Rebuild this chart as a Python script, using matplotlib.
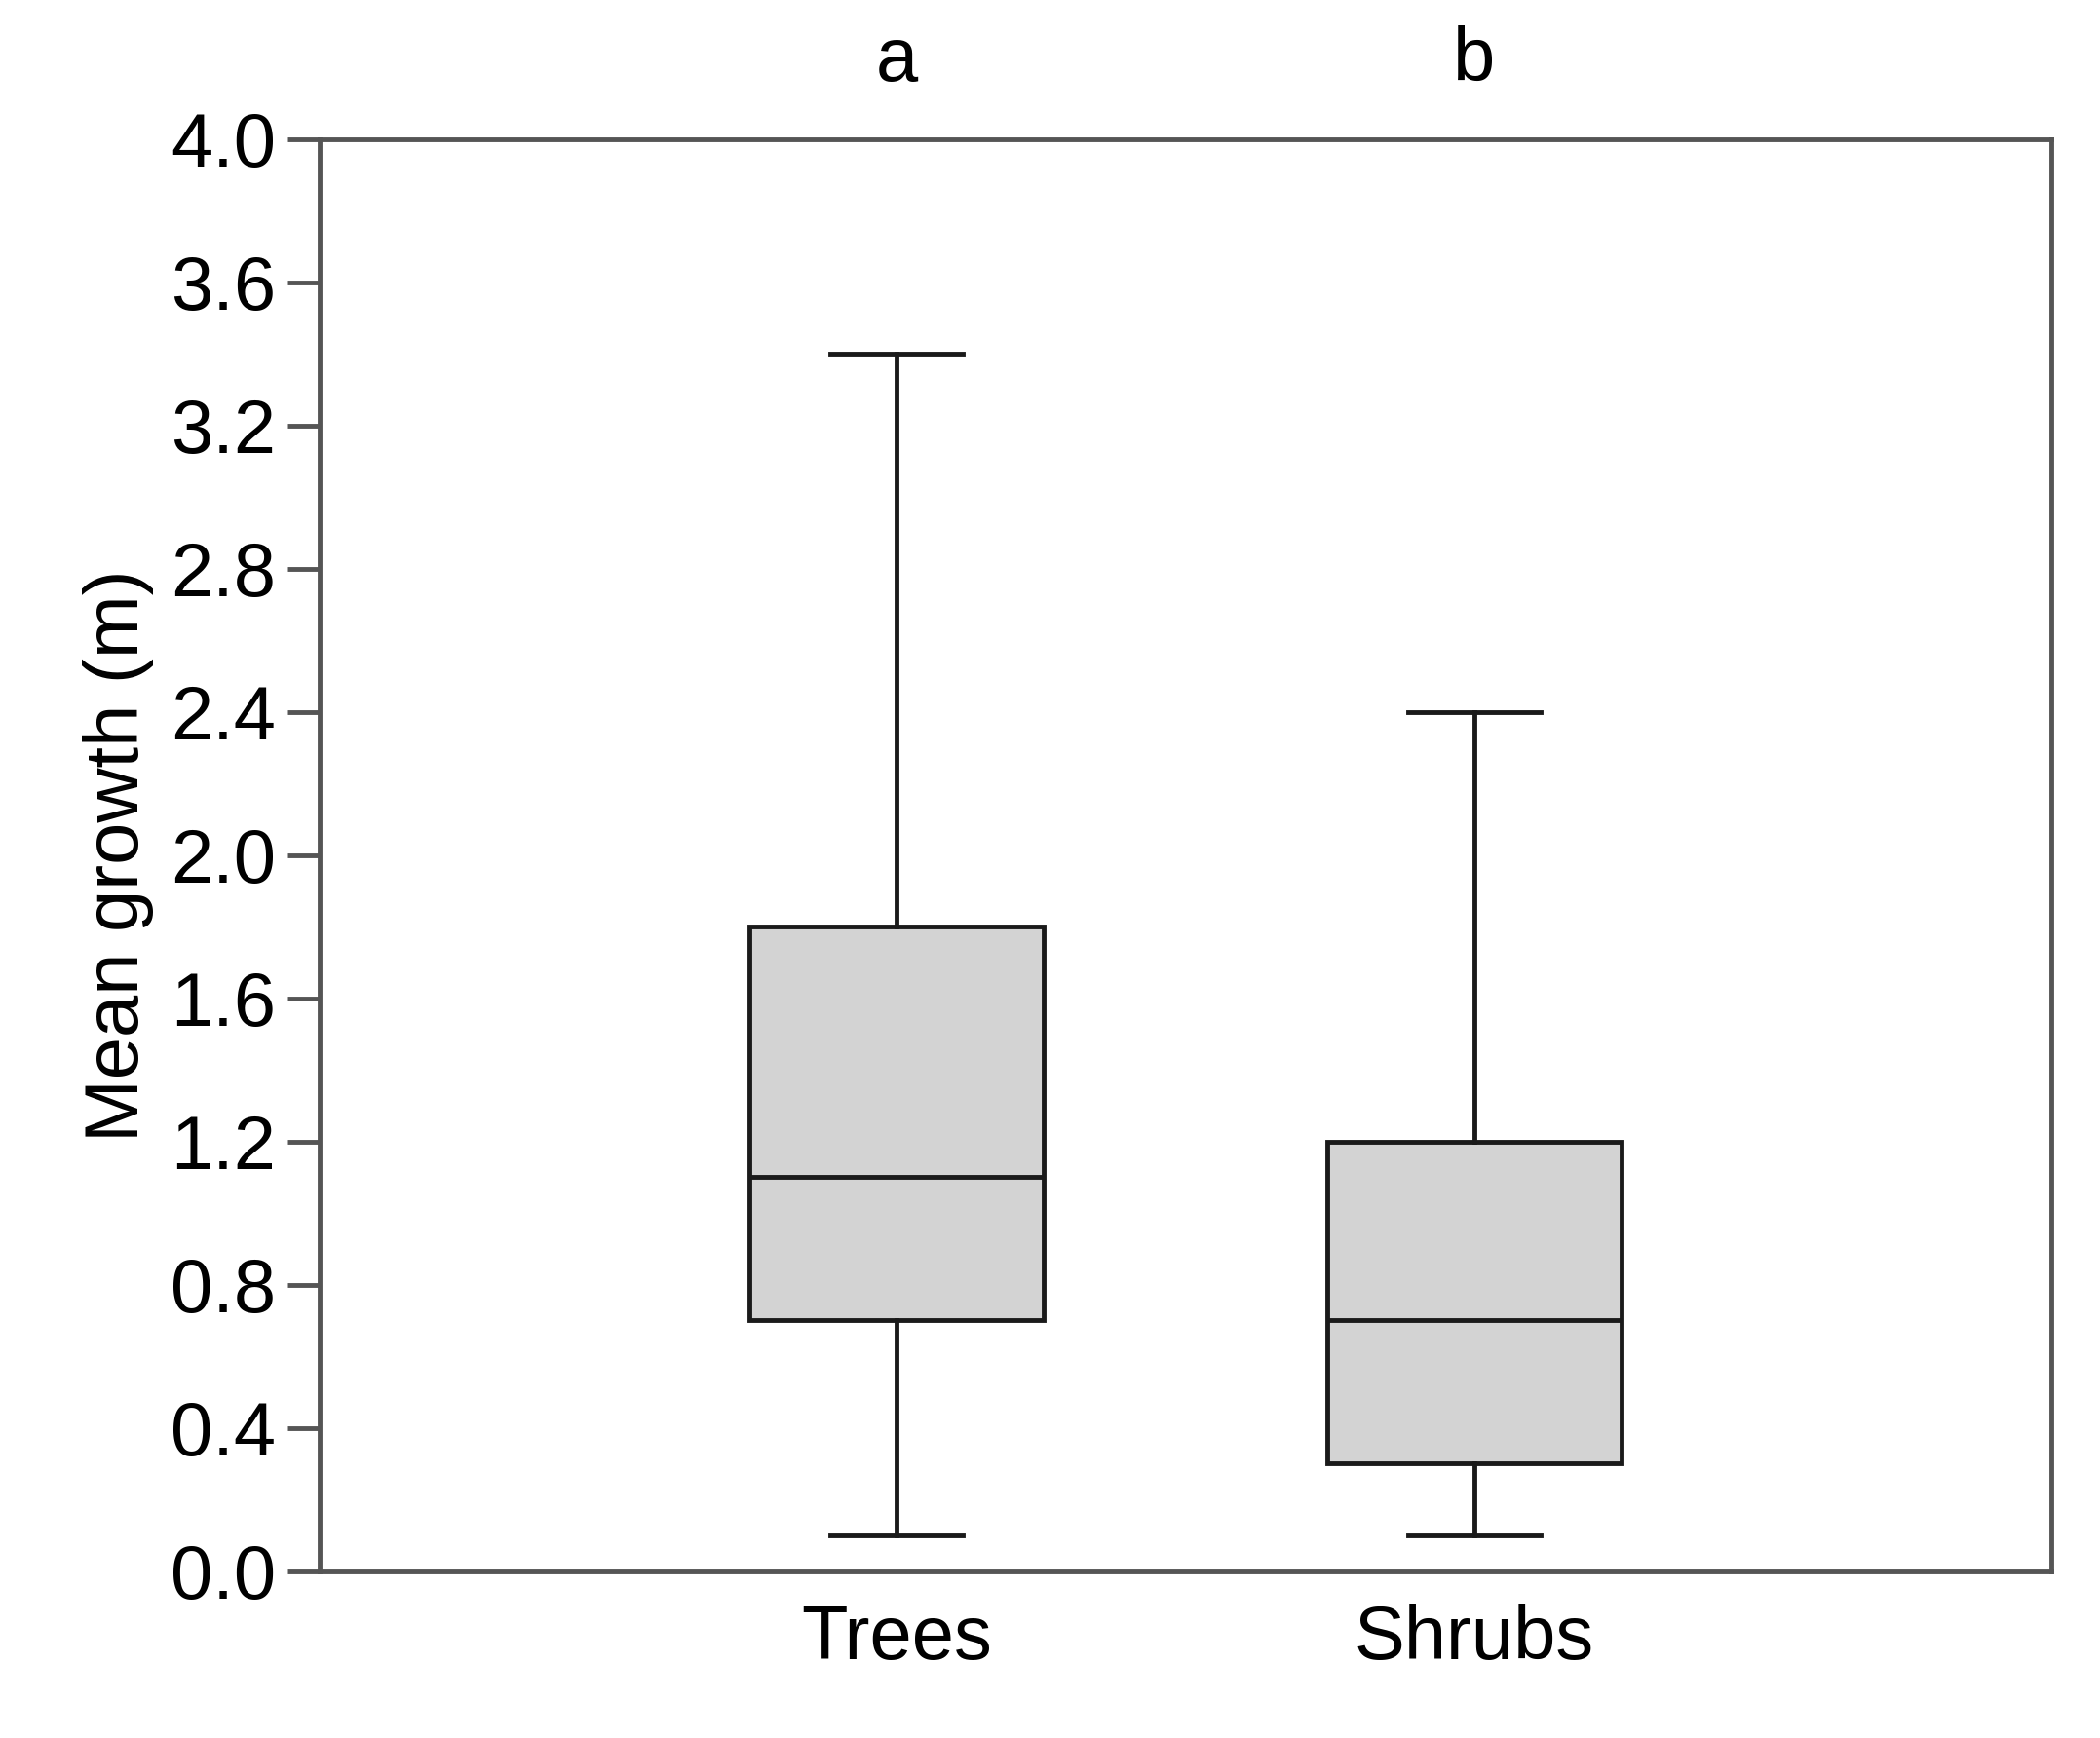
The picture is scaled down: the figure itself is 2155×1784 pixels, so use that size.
import matplotlib

matplotlib.use("Agg")

import matplotlib.pyplot as plt

categories = ["Trees", "Shrubs"]
letters = ["a", "b"]
whisker_low = [0.1, 0.1]
quartile_1 = [0.7, 0.3]
medians = [1.1, 0.7]
quartile_3 = [1.8, 1.2]
whisker_high = [3.4, 2.4]

plt.rcParams["font.family"] = ["Liberation Sans", "DejaVu Sans"]

fig = plt.figure(figsize=(21.55, 17.84), dpi=100)
ax = fig.add_axes([0.152, 0.096, 0.825, 0.824])

stats = [
    dict(label=c, whislo=lo, q1=a, med=m, q3=b, whishi=hi, fliers=[])
    for c, lo, a, m, b, hi in zip(
        categories, whisker_low, quartile_1, medians, quartile_3, whisker_high
    )
]
line = dict(color="#1a1a1a", linewidth=3.5)
ax.bxp(
    stats,
    positions=[1, 2],
    widths=0.51,
    patch_artist=True,
    showfliers=False,
    boxprops=dict(facecolor="#d3d3d3", edgecolor="#1a1a1a", linewidth=3.5),
    medianprops=line,
    whiskerprops=line,
    capprops=line,
    capwidths=0.23,
)

ax.set_xlim(0, 3)
ax.set_ylim(0, 4.0)
ax.set_yticks([i * 0.4 for i in range(11)])
ax.set_yticklabels([f"{i * 0.4:.1f}" for i in range(11)])
ax.set_xticks([1, 2])
ax.set_xticklabels(categories)
ax.tick_params(axis="y", direction="out", length=24, width=3.5, labelsize=56, pad=8,
               color="#555555")
ax.tick_params(axis="x", length=0, labelsize=56, pad=24)
for spine in ax.spines.values():
    spine.set_color("#555555")
    spine.set_linewidth(3.5)
ax.set_ylabel("Mean growth (m)", fontsize=56, labelpad=12)

for x, letter in zip([1, 2], letters):
    ax.text(x, 4.12, letter, ha="center", va="bottom", fontsize=56)

fig.savefig("out.png", dpi=100, facecolor="white")
